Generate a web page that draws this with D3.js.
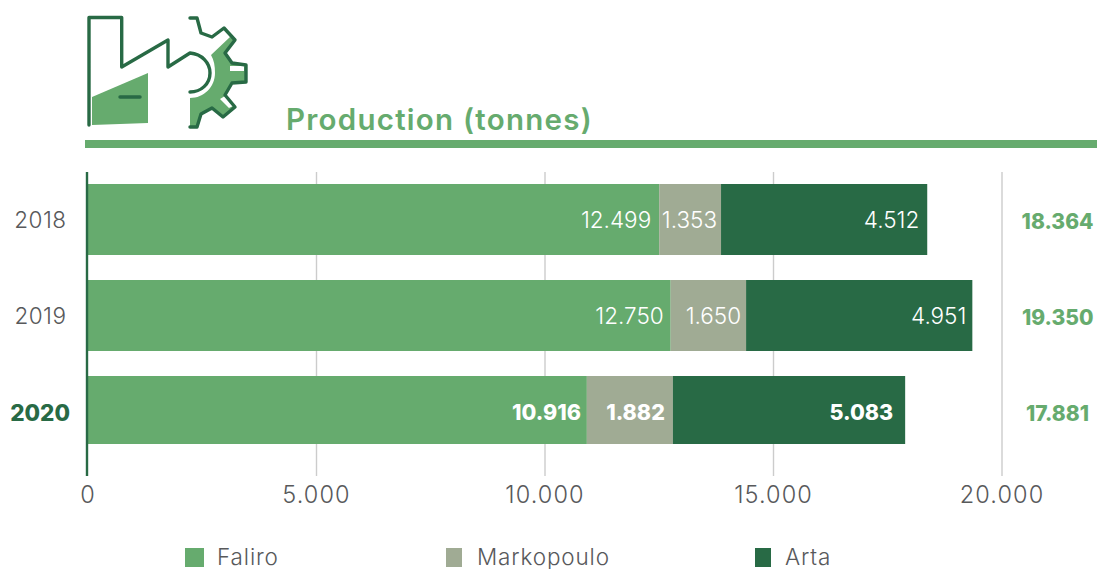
<!DOCTYPE html>
<html><head><meta charset="utf-8">
<script src="https://cdn.jsdelivr.net/npm/d3@7"></script>
<style>html,body{margin:0;padding:0;background:#fff;overflow:hidden}svg{display:block}text{font-family:Inter,"Open Sans",sans-serif}</style>
</head><body><svg id="c" width="1097" height="569"></svg>
<script>
const years = ["2018","2019","2020"];
const seriesNames = ["Faliro","Markopoulo","Arta"];
const faliro = [12499,12750,10916];
const markopoulo = [1353,1650,1882];
const arta = [4512,4951,5083];
const totals = [18364,19350,17881];
const xTicks = [0,5000,10000,15000,20000];
const colors = ["#66ab6e","#a0ab94","#286a45"];
const GREY="#58595b";
const fmt = v => String(v).replace(/\B(?=(\d{3})+$)/g,".");
const svg = d3.select("#c");
const x = d3.scaleLinear().domain([0,20000]).range([88,1002]);
const rowTop = {"2018":184,"2019":280,"2020":376}, rowH = {"2018":71,"2019":71,"2020":68};
const labelNudge = [[-8,-7,-6],[-4,-5,-8],[-8,-6,-12]];

// gridlines
svg.append("g").selectAll("line").data(xTicks.slice(1)).join("line")
  .attr("x1",d=>x(d)).attr("x2",d=>x(d)).attr("y1",172).attr("y2",476)
  .attr("stroke","#cccccc").attr("stroke-width",1.4);
// tick labels
svg.append("g").selectAll("text").data(xTicks).join("text")
  .attr("x",d=>x(d)).attr("y",503).attr("text-anchor","middle")
  .attr("font-size",23.5).attr("letter-spacing",1.1).attr("font-weight",350).attr("fill",GREY).text(fmt);

// stacks
const rows = years.map((yr,i)=>({yr,Faliro:faliro[i],Markopoulo:markopoulo[i],Arta:arta[i]}));
const stack = d3.stack().keys(seriesNames)(rows);
stack.forEach((s,si)=>{
  svg.append("g").selectAll("rect").data(s).join("rect")
    .attr("x",d=>d[0]===0?87:x(d[0])).attr("width",d=>x(d[1])-(d[0]===0?87:x(d[0])))
    .attr("y",d=>rowTop[d.data.yr]).attr("height",d=>rowH[d.data.yr])
    .attr("fill",colors[si]);
  svg.append("g").selectAll("text").data(s).join("text")
    .attr("x",(d,i)=>x(d[1])+labelNudge[si][i]).attr("y",d=>rowTop[d.data.yr]+44)
    .attr("text-anchor","end").attr("fill","#fff")
    .attr("font-size",d=>d.data.yr==="2020"?21.5:22.5)
    .attr("font-weight",d=>d.data.yr==="2020"?800:300)
    .text(d=>fmt(d.data[seriesNames[si]]));
});
// axis line
svg.append("line").attr("x1",87).attr("x2",87).attr("y1",172).attr("y2",476)
  .attr("stroke","#286a45").attr("stroke-width",2.4);
// category labels
svg.append("g").selectAll("text").data(years).join("text")
  .attr("x",d=>d==="2020"?70:66.5).attr("y",d=>rowTop[d]+(d==="2020"?45:44)).attr("text-anchor","end")
  .attr("font-size",22.5).attr("letter-spacing",d=>d==="2020"?0:0.5).attr("font-weight",d=>d==="2020"?800:350)
  .attr("fill",d=>d==="2020"?"#286a45":GREY).text(d=>d);
// totals
svg.append("g").selectAll("text").data(totals).join("text")
  .attr("x",(d,i)=>i===2?1089:1093.5).attr("y",(d,i)=>rowTop[years[i]]+45).attr("text-anchor","end")
  .attr("font-size",21).attr("font-weight",800).attr("fill","#66ab6e").text(fmt);

// header
svg.append("text").attr("x",286).attr("y",130).attr("font-size",29.5).attr("letter-spacing",1.25).attr("font-weight",600)
  .attr("fill","#66ab6e").text("Production (tonnes)");
svg.append("rect").attr("x",85).attr("y",140).attr("width",1012).attr("height",8).attr("fill","#66ab6e");

// legend
const lx=[185,446,755], lw=[19,16,16], tx=[217,477,785];
seriesNames.forEach((n,i)=>{
  svg.append("rect").attr("x",lx[i]).attr("y",548).attr("width",lw[i]).attr("height",19).attr("fill",colors[i]);
  svg.append("text").attr("x",tx[i]).attr("y",565).attr("font-size",22.5).attr("letter-spacing",0.85).attr("font-weight",350).attr("fill",GREY).text(n);
});

// icon
const ic = svg.append("g");
const lineStyle = s => s.attr("stroke","#286a45").attr("stroke-width",3.4).attr("stroke-linejoin","round").attr("stroke-linecap","round").attr("fill","none");
ic.append("path").attr("d","M92 97L148 73V123L92 125Z").attr("fill","#66ab6e");
ic.append("path").attr("d","M120 97H140").call(lineStyle);
ic.append("path").attr("d","M89 125V17.5H121.7V67L168 40V67L190 53C202 54 210 63 210 73C210 84 201 92 190 92").call(lineStyle);
ic.append("path").attr("d","M190 98C204 98 215 87 215 73C215 66 214 60 211 55L230 37L235 40L225 53L232 63L246 65V82L232 83L225 95L235 107L223 117L212 108L201 114L197 127H190Z").attr("fill","#66ab6e");
ic.append("path").attr("d","M230 66H244V71H230ZM220 99L225 96L233 106L229 108Z").attr("fill","#fff");
ic.append("path").attr("d","M190 18H197L201 33L212 37L224 28L235 40L225 53L232 63L246 65V82L232 83L225 95L235 107L223 117L212 108L201 114L197 127H190").call(lineStyle);
</script></body></html>
